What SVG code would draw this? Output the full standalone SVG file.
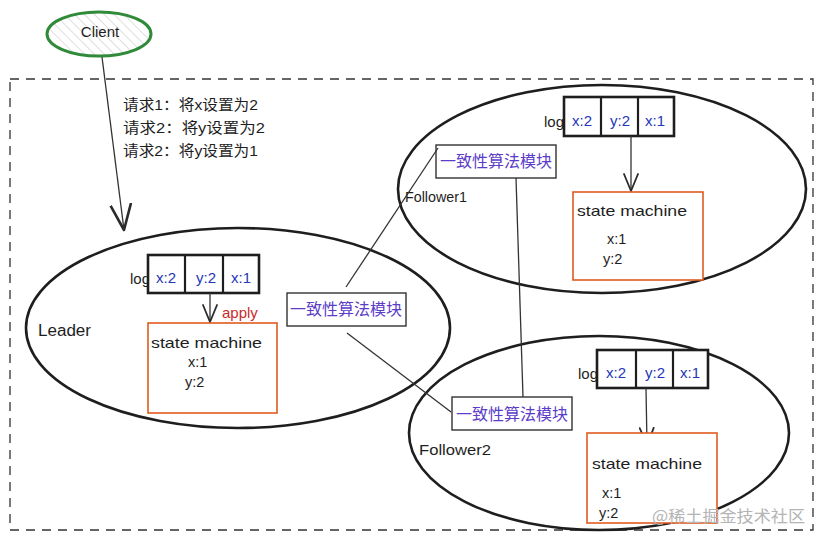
<svg xmlns="http://www.w3.org/2000/svg" width="823" height="540" viewBox="0 0 823 540">
<defs>
<pattern id="hatch" patternUnits="userSpaceOnUse" width="7" height="7" patternTransform="rotate(-45)">
<rect width="7" height="7" fill="#ffffff"/>
<line x1="0" y1="0" x2="0" y2="7" stroke="#c8c8c8" stroke-width="1.2"/>
</pattern>
<marker id="vee" markerWidth="20" markerHeight="16" refX="18" refY="8" orient="auto" markerUnits="userSpaceOnUse" viewBox="0 0 20 16">
<path d="M1,1 L18,8 L1,15" fill="none" stroke="#2b2b2b" stroke-width="1.8" stroke-linecap="round" stroke-linejoin="round"/>
</marker>
<marker id="veeBig" markerWidth="28" markerHeight="24" refX="26" refY="12" orient="auto" markerUnits="userSpaceOnUse" viewBox="0 0 28 24">
<path d="M1,2 L26,12 L1,22" fill="none" stroke="#2b2b2b" stroke-width="2.6" stroke-linecap="round" stroke-linejoin="round"/>
</marker>
</defs>
<style>
.t{font-family:"Liberation Sans","Noto Sans CJK SC",sans-serif;fill:#1e1e1e}
.ell{fill:none;stroke:#1e1e1e;stroke-width:2.6}
.logbox{fill:#fff;stroke:#1e1e1e;stroke-width:2.6}
.div{stroke:#1e1e1e;stroke-width:2.2}
.sm{fill:#fff;stroke:#e05a20;stroke-width:1.6}
.cons{fill:#fff;stroke:#333;stroke-width:1.4}
.ctext{font-family:"Noto Sans CJK SC","Liberation Sans",sans-serif;fill:#5b3dc8;font-size:16px}
.blue{fill:#2437b8}
.conn{stroke:#333;stroke-width:1.3;fill:none}
</style>
<rect x="10" y="79" width="803" height="451" fill="none" stroke="#333" stroke-width="1.3" stroke-dasharray="9,7"/>

<g id="client">
<ellipse cx="99" cy="34" rx="52" ry="22" fill="url(#hatch)" stroke="#2f8a3a" stroke-width="3"/>
<text class="t" x="100" y="37" font-size="15" text-anchor="middle">Client</text>
</g>

<g id="request-labels">
<text class="t" x="123" y="110" font-size="14.5" textLength="135" lengthAdjust="spacingAndGlyphs">请求1：将x设置为2</text>
<text class="t" x="123" y="133" font-size="14.5" textLength="142" lengthAdjust="spacingAndGlyphs">请求2：将y设置为2</text>
<text class="t" x="123" y="156" font-size="14.5" textLength="135" lengthAdjust="spacingAndGlyphs">请求2：将y设置为1</text>
</g>

<g id="leader">
<ellipse class="ell" cx="238" cy="328" rx="212" ry="100"/>
<text class="t" x="38" y="336" font-size="16" textLength="53" lengthAdjust="spacingAndGlyphs">Leader</text>
<text class="t" x="130" y="284" font-size="15">log</text>
<rect class="logbox" x="148" y="255" width="111" height="38"/>
<line class="div" x1="185" y1="255" x2="185" y2="293"/>
<line class="div" x1="223" y1="255" x2="223" y2="293"/>
<text class="t blue" x="166" y="283" font-size="15" text-anchor="middle">x:2</text>
<text class="t blue" x="206" y="283" font-size="15" text-anchor="middle">y:2</text>
<text class="t blue" x="241" y="283" font-size="15" text-anchor="middle">x:1</text>
<line class="conn" x1="210" y1="293" x2="210" y2="322" stroke-width="2.2" marker-end="url(#vee)"/>
<text class="t" x="222" y="318" font-size="15" style="fill:#c92a2a">apply</text>
<rect class="sm" x="148" y="323" width="129" height="90"/>
<text class="t" x="151" y="348" font-size="14.5" textLength="111" lengthAdjust="spacingAndGlyphs">state machine</text>
<text class="t" x="188" y="367" font-size="14.5">x:1</text>
<text class="t" x="185" y="387" font-size="14.5">y:2</text>
</g>

<g id="leader-consensus">
<rect class="cons" x="287" y="293" width="119" height="33"/>
<text class="ctext" x="346" y="315" text-anchor="middle" textLength="112" lengthAdjust="spacingAndGlyphs">一致性算法模块</text>
</g>

<g id="follower1">
<ellipse class="ell" cx="602" cy="189" rx="204" ry="104"/>
<text class="t" x="405" y="202" font-size="14.5" textLength="62" lengthAdjust="spacingAndGlyphs">Follower1</text>
<text class="t" x="544" y="127" font-size="15">log</text>
<rect class="logbox" x="564" y="97" width="110" height="39"/>
<line class="div" x1="601" y1="97" x2="601" y2="136"/>
<line class="div" x1="638" y1="97" x2="638" y2="136"/>
<text class="t blue" x="582" y="126" font-size="15" text-anchor="middle">x:2</text>
<text class="t blue" x="620" y="126" font-size="15" text-anchor="middle">y:2</text>
<text class="t blue" x="655" y="126" font-size="15" text-anchor="middle">x:1</text>
<line class="conn" x1="631" y1="136" x2="631" y2="191" marker-end="url(#vee)"/>
<rect class="sm" x="573" y="192" width="130" height="88"/>
<text class="t" x="577" y="216" font-size="14.5" textLength="110" lengthAdjust="spacingAndGlyphs">state machine</text>
<text class="t" x="607" y="244" font-size="14.5">x:1</text>
<text class="t" x="603" y="264" font-size="14.5">y:2</text>
</g>

<g id="follower1-consensus">
<rect class="cons" x="436" y="145" width="120" height="33"/>
<text class="ctext" x="496" y="167" text-anchor="middle" textLength="112" lengthAdjust="spacingAndGlyphs">一致性算法模块</text>
</g>

<g id="follower2">
<ellipse class="ell" cx="599" cy="433" rx="190" ry="97"/>
<text class="t" x="419" y="455" font-size="14.5" textLength="72" lengthAdjust="spacingAndGlyphs">Follower2</text>
<text class="t" x="578" y="379" font-size="15">log</text>
<rect class="logbox" x="597" y="350" width="111" height="38"/>
<line class="div" x1="636" y1="350" x2="636" y2="388"/>
<line class="div" x1="673" y1="350" x2="673" y2="388"/>
<text class="t blue" x="616" y="378" font-size="15" text-anchor="middle">x:2</text>
<text class="t blue" x="655" y="378" font-size="15" text-anchor="middle">y:2</text>
<text class="t blue" x="690" y="378" font-size="15" text-anchor="middle">x:1</text>
<line class="conn" x1="646" y1="388" x2="647" y2="445" marker-end="url(#vee)"/>
<rect class="sm" x="587" y="433" width="130" height="90"/>
<text class="t" x="592" y="469" font-size="14.5" textLength="110" lengthAdjust="spacingAndGlyphs">state machine</text>
<text class="t" x="602" y="498" font-size="14.5">x:1</text>
<text class="t" x="599" y="518" font-size="14.5">y:2</text>
</g>

<g id="follower2-consensus">
<rect class="cons" x="452" y="397" width="120" height="33"/>
<text class="ctext" x="512" y="420" text-anchor="middle" textLength="112" lengthAdjust="spacingAndGlyphs">一致性算法模块</text>
</g>

<g id="connectors">
<line class="conn" x1="102" y1="57" x2="124" y2="230" stroke-width="2.6" marker-end="url(#veeBig)"/>
<line class="conn" x1="346" y1="287" x2="438" y2="148"/>
<line class="conn" x1="347" y1="333" x2="451" y2="412"/>
<line class="conn" x1="516" y1="178" x2="523" y2="397" stroke-width="1.6"/>
</g>

<text x="652" y="522" font-family="Noto Sans CJK SC,sans-serif" font-size="16" fill="#b4b4b4" textLength="153" lengthAdjust="spacingAndGlyphs">@稀土掘金技术社区</text>
</svg>
